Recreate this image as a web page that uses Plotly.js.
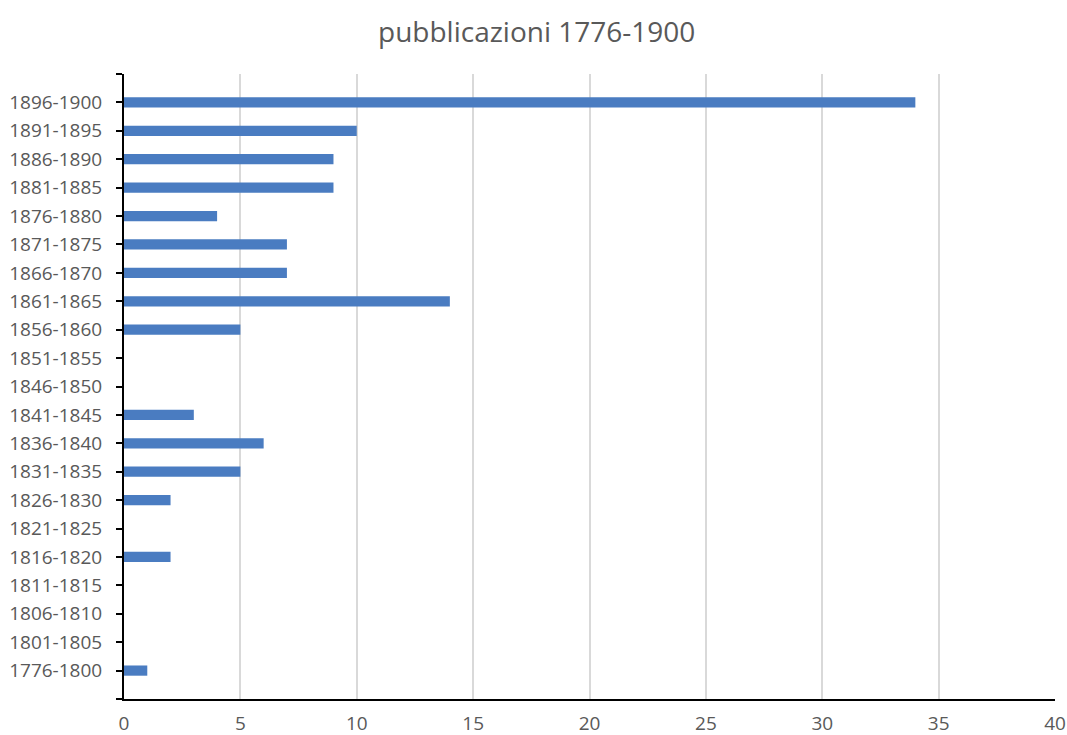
<!DOCTYPE html>
<html>
<head>
<meta charset="utf-8">
<script src="https://cdn.plot.ly/plotly-3.0.1.min.js"></script>
<style>html,body{margin:0;padding:0;background:#fff;}#chart{width:1067px;height:735px;}</style>
</head>
<body>
<div id="chart"></div>
<script>
const periods = ["1776-1800","1801-1805","1806-1810","1811-1815","1816-1820","1821-1825","1826-1830","1831-1835","1836-1840","1841-1845","1846-1850","1851-1855","1856-1860","1861-1865","1866-1870","1871-1875","1876-1880","1881-1885","1886-1890","1891-1895","1896-1900"];
const counts = [1,0,0,0,2,0,2,5,6,3,0,0,5,14,7,7,4,9,9,10,34];
const xTicks = [0,5,10,15,20,25,30,35,40];

const idx = periods.map((p,i)=>i);
const yTickVals = [-1].concat(idx, [periods.length]);
const yTickText = [""].concat(periods, [""]);

const trace = {
  type: "bar",
  orientation: "h",
  x: counts,
  y: idx,
  width: 0.36,
  marker: {color: "#4a7cc1"},
  hoverinfo: "x+text",
  text: periods,
  textposition: "none"
};

const layout = {
  width: 1067, height: 735,
  margin: {l: 124, r: 12, t: 74, b: 36},
  paper_bgcolor: "#fff", plot_bgcolor: "#fff",
  showlegend: false,
  title: {text: "pubblicazioni 1776-1900", x: 0.503, xanchor: "center", y: 0.956, yanchor: "middle",
          font: {family: "Open Sans, Liberation Sans, sans-serif", size: 28, color: "#595959"}},
  font: {family: "Open Sans, Liberation Sans, sans-serif", size: 19, color: "#595959"},
  xaxis: {
    range: [0, 40], tickvals: xTicks, ticktext: xTicks.map(String),
    showgrid: true, gridcolor: "#d9d9d9", gridwidth: 2,
    zeroline: false, showline: true, linecolor: "#000", linewidth: 2,
    ticks: "", ticklabelstandoff: 6, fixedrange: true
  },
  yaxis: {
    range: [-1, periods.length], tickvals: yTickVals, ticktext: yTickText,
    showgrid: false, zeroline: false, showline: true, linecolor: "#000", linewidth: 2,
    ticks: "outside", ticklen: 6, tickwidth: 2, tickcolor: "#000",
    ticklabelstandoff: 10, fixedrange: true
  }
};

Plotly.newPlot("chart", [trace], layout, {displayModeBar: false, staticPlot: true});
</script>
</body>
</html>
